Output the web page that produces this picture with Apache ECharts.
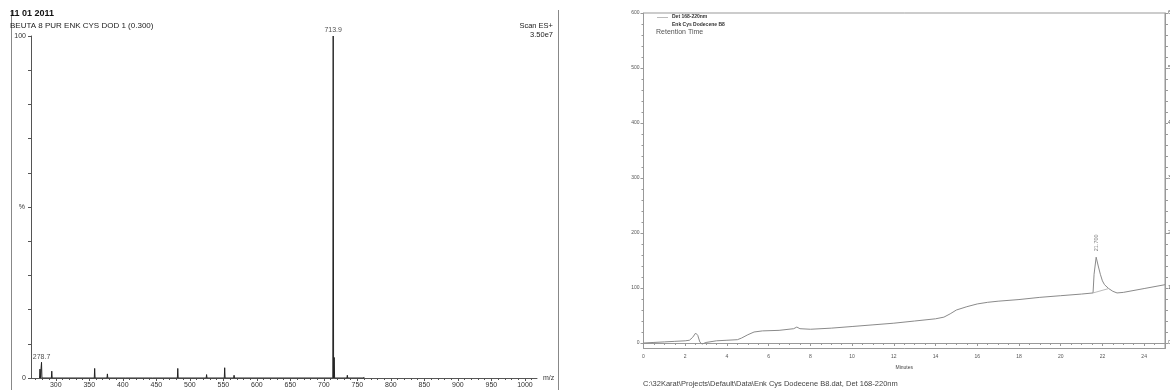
<!DOCTYPE html>
<html>
<head>
<meta charset="utf-8">
<script src="https://cdn.jsdelivr.net/npm/echarts@6/dist/echarts.min.js"></script>
<style>
  html, body { margin: 0; padding: 0; background: #fff; }
  #chart { width: 1170px; height: 390px; }
</style>
</head>
<body>
<div id="chart"></div>
<script>
// Mass spectrum (Scan ES+): peak positions (m/z) and relative intensity (%)
const mzValues    = [276.4, 278.7, 294.0, 358.0, 377.0, 405.0, 445.0, 482.0, 525.0, 552.0, 566.0, 713.9, 715.4, 735.0, 760.0];
const mzIntensity = [2.6,   4.6,   2.0,   2.8,   1.2,   0.4,   0.4,   2.8,   1.0,   3.0,   0.8,   100,   6.0,   0.8,   0.3];
const labelledPeaks = [278.7, 713.9];
const mzTickLabels = [300, 350, 400, 450, 500, 550, 600, 650, 700, 750, 800, 850, 900, 950, 1000];

// HPLC trace (Det 168-220nm): retention time (min) and detector signal
const retentionTime = [0, 0.5, 1, 1.5, 2.0, 2.2, 2.35, 2.5, 2.6, 2.7, 2.8, 3.0, 3.5, 4.0, 4.5, 4.7, 5.0, 5.3, 5.7, 6.5, 7.2, 7.35, 7.5, 8, 9, 10, 11, 12, 13, 14, 14.4, 14.7, 15, 15.5, 16, 16.5, 17, 18, 19, 20, 21, 21.55, 21.6, 21.7, 21.8, 21.9, 22.0, 22.1, 22.3, 22.5, 22.7, 23, 24, 25];
const detectorSignal = [0, 1, 2, 3, 4, 5, 10, 18, 14, 2, -2, 1, 4, 5, 6, 9, 15, 20, 22, 23, 26, 29, 26, 25, 27, 30, 33, 36, 40, 44, 47, 53, 60, 66, 71, 74, 76, 79, 83, 86, 89, 91, 125, 156, 140, 125, 113, 106, 99, 94, 91, 92, 99, 106];
const peakTimes = [21.7];
const integrationTimes = [21.55, 22.3];
const integrationSignal = [91, 99];
const timeTickLabels = [0, 2, 4, 6, 8, 10, 12, 14, 16, 18, 20, 22, 24];
const signalTickLabels = [0, 100, 200, 300, 400, 500, 600];

const FONT = '"Liberation Sans", Arial, sans-serif';

// build stick spectrum: each peak drawn as a narrow spike from the baseline
const stickData = [];
mzValues.forEach((mz, i) => {
  stickData.push([mz - 0.6, 0], [mz, mzIntensity[i]], [mz + 0.6, 0]);
});
const peakLabelData = labelledPeaks.map(mz => [mz, mzIntensity[mzValues.indexOf(mz)]]);

const traceData = retentionTime.map((t, i) => [t, detectorSignal[i]]);
const peakData = peakTimes.map(t => [t, detectorSignal[retentionTime.indexOf(t)]]);
const integrationData = integrationTimes.map((t, i) => [t, integrationSignal[i]]);

function range(a, b, step) {
  const out = [];
  for (let v = a; v <= b + 1e-9; v += step) out.push(Math.round(v * 1000) / 1000);
  return out;
}
const plain = v => String(v);

const chart = echarts.init(document.getElementById('chart'), null, { renderer: 'canvas' });

const msAxisColor = '#555';
const lcAxisColor = '#999';

chart.setOption({
  animation: false,
  backgroundColor: '#fff',
  textStyle: { fontFamily: FONT },
  grid: [
    { left: 31, top: 36, width: 506, height: 342, outerBoundsMode: 'none', containLabel: false },
    { left: 643.5, top: 13, width: 521.5, height: 335.5, outerBoundsMode: 'none', containLabel: false,
      show: true, borderColor: lcAxisColor, borderWidth: 1, backgroundColor: 'transparent' }
  ],
  xAxis: [
    { // m/z axis with labels
      type: 'value', gridIndex: 0, min: 263, max: 1018,
      name: 'm/z', nameLocation: 'end', nameGap: 6,
      nameTextStyle: { fontSize: 7, color: '#333', fontFamily: FONT, verticalAlign: 'middle' },
      axisLine: { show: true, lineStyle: { color: msAxisColor, width: 1 } },
      axisTick: { show: true, length: 3, customValues: mzTickLabels, lineStyle: { color: msAxisColor } },
      axisLabel: { customValues: mzTickLabels, formatter: plain, fontSize: 7, color: '#333', margin: 4, fontFamily: FONT },
      splitLine: { show: false }
    },
    { // m/z minor ticks
      type: 'value', gridIndex: 0, min: 263, max: 1018, position: 'bottom',
      axisLine: { show: false },
      axisTick: { show: true, length: 2, customValues: range(270, 1010, 10), lineStyle: { color: msAxisColor } },
      axisLabel: { show: false }, splitLine: { show: false }
    },
    { // retention time axis
      type: 'value', gridIndex: 1, min: 0, max: 25,
      name: 'Minutes', nameLocation: 'middle', nameGap: 17, nameMoveOverlap: false,
      nameTextStyle: { fontSize: 5, color: '#444', fontFamily: FONT },
      axisLine: { show: true, lineStyle: { color: lcAxisColor } },
      axisTick: { show: true, length: 3, customValues: timeTickLabels, lineStyle: { color: lcAxisColor } },
      axisLabel: { customValues: timeTickLabels, formatter: plain, fontSize: 5, color: '#555', margin: 6, fontFamily: FONT },
      splitLine: { show: false }
    },
    { // retention time minor ticks
      type: 'value', gridIndex: 1, min: 0, max: 25, position: 'bottom',
      axisLine: { show: false },
      axisTick: { show: true, length: 2, customValues: range(0, 25, 0.5), lineStyle: { color: lcAxisColor } },
      axisLabel: { show: false }, splitLine: { show: false }
    }
  ],
  yAxis: [
    { // relative intensity
      type: 'value', gridIndex: 0, min: 0, max: 100,
      name: '%', nameLocation: 'middle', nameGap: 6, nameRotate: 0, nameMoveOverlap: false,
      nameTextStyle: { fontSize: 7, color: '#333', fontFamily: FONT },
      axisLine: { show: true, lineStyle: { color: msAxisColor } },
      axisTick: { show: true, length: 3, customValues: range(0, 100, 10), lineStyle: { color: msAxisColor } },
      axisLabel: { customValues: [0, 100], formatter: plain, fontSize: 7, color: '#333', margin: 5, fontFamily: FONT },
      splitLine: { show: false }
    },
    { // detector signal, left
      type: 'value', gridIndex: 1, min: -10, max: 600, position: 'left',
      axisLine: { show: true, lineStyle: { color: lcAxisColor } },
      axisTick: { show: true, length: 3, customValues: signalTickLabels, lineStyle: { color: lcAxisColor } },
      axisLabel: { customValues: signalTickLabels, formatter: plain, fontSize: 5, color: '#555', margin: 4, fontFamily: FONT },
      splitLine: { show: false }
    },
    { // detector signal, left minor ticks
      type: 'value', gridIndex: 1, min: -10, max: 600, position: 'left',
      axisLine: { show: false },
      axisTick: { show: true, length: 2, customValues: range(0, 600, 20), lineStyle: { color: lcAxisColor } },
      axisLabel: { show: false }, splitLine: { show: false }
    },
    { // detector signal, right
      type: 'value', gridIndex: 1, min: -10, max: 600, position: 'right',
      axisLine: { show: true, lineStyle: { color: lcAxisColor } },
      axisTick: { show: true, length: 3, customValues: range(0, 600, 20), lineStyle: { color: lcAxisColor } },
      axisLabel: { customValues: signalTickLabels, formatter: plain, fontSize: 5, color: '#555', margin: 3, fontFamily: FONT },
      splitLine: { show: false }
    }
  ],
  series: [
    {
      type: 'line', xAxisIndex: 0, yAxisIndex: 0,
      data: stickData, symbol: 'none', silent: true,
      lineStyle: { color: '#222', width: 1 }
    },
    {
      type: 'scatter', xAxisIndex: 0, yAxisIndex: 0,
      data: peakLabelData, symbolSize: 0, silent: true,
      label: {
        show: true, position: 'top', distance: 2,
        formatter: p => p.value[0].toFixed(1),
        fontSize: 7, color: '#222', fontFamily: FONT
      }
    },
    {
      type: 'line', xAxisIndex: 2, yAxisIndex: 1,
      data: traceData, symbol: 'none', silent: true,
      lineStyle: { color: '#8a8a8a', width: 1 }
    },
    {
      type: 'line', xAxisIndex: 2, yAxisIndex: 1,
      data: integrationData, symbol: 'none', silent: true,
      lineStyle: { color: '#aaa', width: 0.8 }
    },
    {
      type: 'scatter', xAxisIndex: 2, yAxisIndex: 1,
      data: peakData, symbolSize: 0, silent: true,
      label: {
        show: true, position: 'top', distance: 6, rotate: 90,
        align: 'left', verticalAlign: 'middle',
        formatter: p => p.value[0].toFixed(3),
        fontSize: 5.5, color: '#555', fontFamily: FONT
      }
    }
  ],
  graphic: [
    // page frame of the spectrum printout
    { type: 'line', shape: { x1: 11.5, y1: 10, x2: 11.5, y2: 390 }, style: { stroke: '#888', lineWidth: 1 }, silent: true },
    { type: 'line', shape: { x1: 558.5, y1: 10, x2: 558.5, y2: 390 }, style: { stroke: '#888', lineWidth: 1 }, silent: true },
    { type: 'text', left: 10, top: 9, style: { text: '11 01 2011', font: 'bold 9px ' + FONT, fill: '#111' }, silent: true },
    { type: 'text', left: 10, top: 22, style: { text: 'BEUTA 8 PUR ENK CYS DOD 1 (0.300)', font: '8px ' + FONT, fill: '#222' }, silent: true },
    { type: 'text', right: 1170 - 553, top: 22, style: { text: 'Scan ES+', font: '7.5px ' + FONT, fill: '#222', align: 'right' }, silent: true },
    { type: 'text', right: 1170 - 553, top: 31, style: { text: '3.50e7', font: '7.5px ' + FONT, fill: '#222', align: 'right' }, silent: true },
    // chromatogram legend block
    { type: 'line', shape: { x1: 657, y1: 17.5, x2: 668, y2: 17.5 }, style: { stroke: '#bbb', lineWidth: 1 }, silent: true },
    { type: 'text', left: 672, top: 14.5, style: { text: 'Det 168-220nm', font: 'bold 5px ' + FONT, fill: '#333' }, silent: true },
    { type: 'text', left: 672, top: 22, style: { text: 'Enk Cys Dodecene B8', font: 'bold 5px ' + FONT, fill: '#333' }, silent: true },
    { type: 'text', left: 656, top: 29, style: { text: 'Retention Time', font: '7px ' + FONT, fill: '#555' }, silent: true },
    // data file footer
    { type: 'text', left: 643, top: 380, style: { text: 'C:\\32Karat\\Projects\\Default\\Data\\Enk Cys Dodecene B8.dat, Det 168-220nm', font: '7.5px ' + FONT, fill: '#444' }, silent: true }
  ]
});
</script>
</body>
</html>
